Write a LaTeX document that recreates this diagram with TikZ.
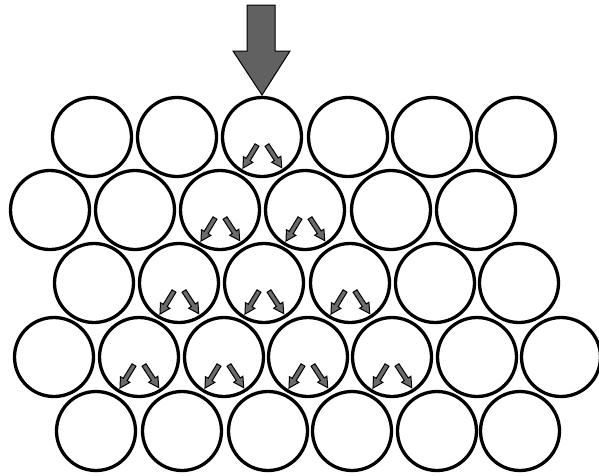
\documentclass[tikz,border=0pt]{standalone}
\begin{document}
\begin{tikzpicture}[x=1pt,y=-1pt,
  ball/.style={circle,draw=black,line width=3.3pt,minimum size=79pt,inner sep=0pt},
  thrust/.style={draw=black,fill=black!58,line width=1pt,line join=miter},
  load/.style={draw=black,fill=black!62,line width=1pt,line join=miter}]
\useasboundingbox (0,0) rectangle (599,475);
\foreach \x [count=\i] in {92,177,262,348,432,516} \node[ball] (a\i) at (\x,137) {};
\foreach \x [count=\i] in {50,135,220,305,391,476} \node[ball] (b\i) at (\x,210) {};
\foreach \x [count=\i] in {94,179,264,350,435,519} \node[ball] (c\i) at (\x,283) {};
\foreach \x [count=\i] in {54,139,224,308,392,477,561} \node[ball] (d\i) at (\x,357) {};
\foreach \x [count=\i] in {96,182,268,352,437,520} \node[ball] (e\i) at (\x,431) {};
% big load arrow
\draw[load] (247,5) -- (275,5) -- (275,51) -- (290,51) -- (262,95) -- (233,51) -- (247,51) -- cycle;
% small force arrows
\foreach \n in {a3,b3,b4,c2,c3,c4,d2,d3,d4,d5}{
  \draw[thrust,shift={(\n.center)},shift={(-5,8)},rotate=-121.3]
    (0,-2.3) -- (17,-2.3) -- (17,-5.5) -- (27,0) -- (17,5.5) -- (17,2.3) -- (0,2.3) -- cycle;
  \draw[thrust,shift={(\n.center)},shift={(5,8)},rotate=-56.9]
    (0,-2.3) -- (17,-2.3) -- (17,-5.5) -- (27,0) -- (17,5.5) -- (17,2.3) -- (0,2.3) -- cycle;
}
\end{tikzpicture}
\end{document}
